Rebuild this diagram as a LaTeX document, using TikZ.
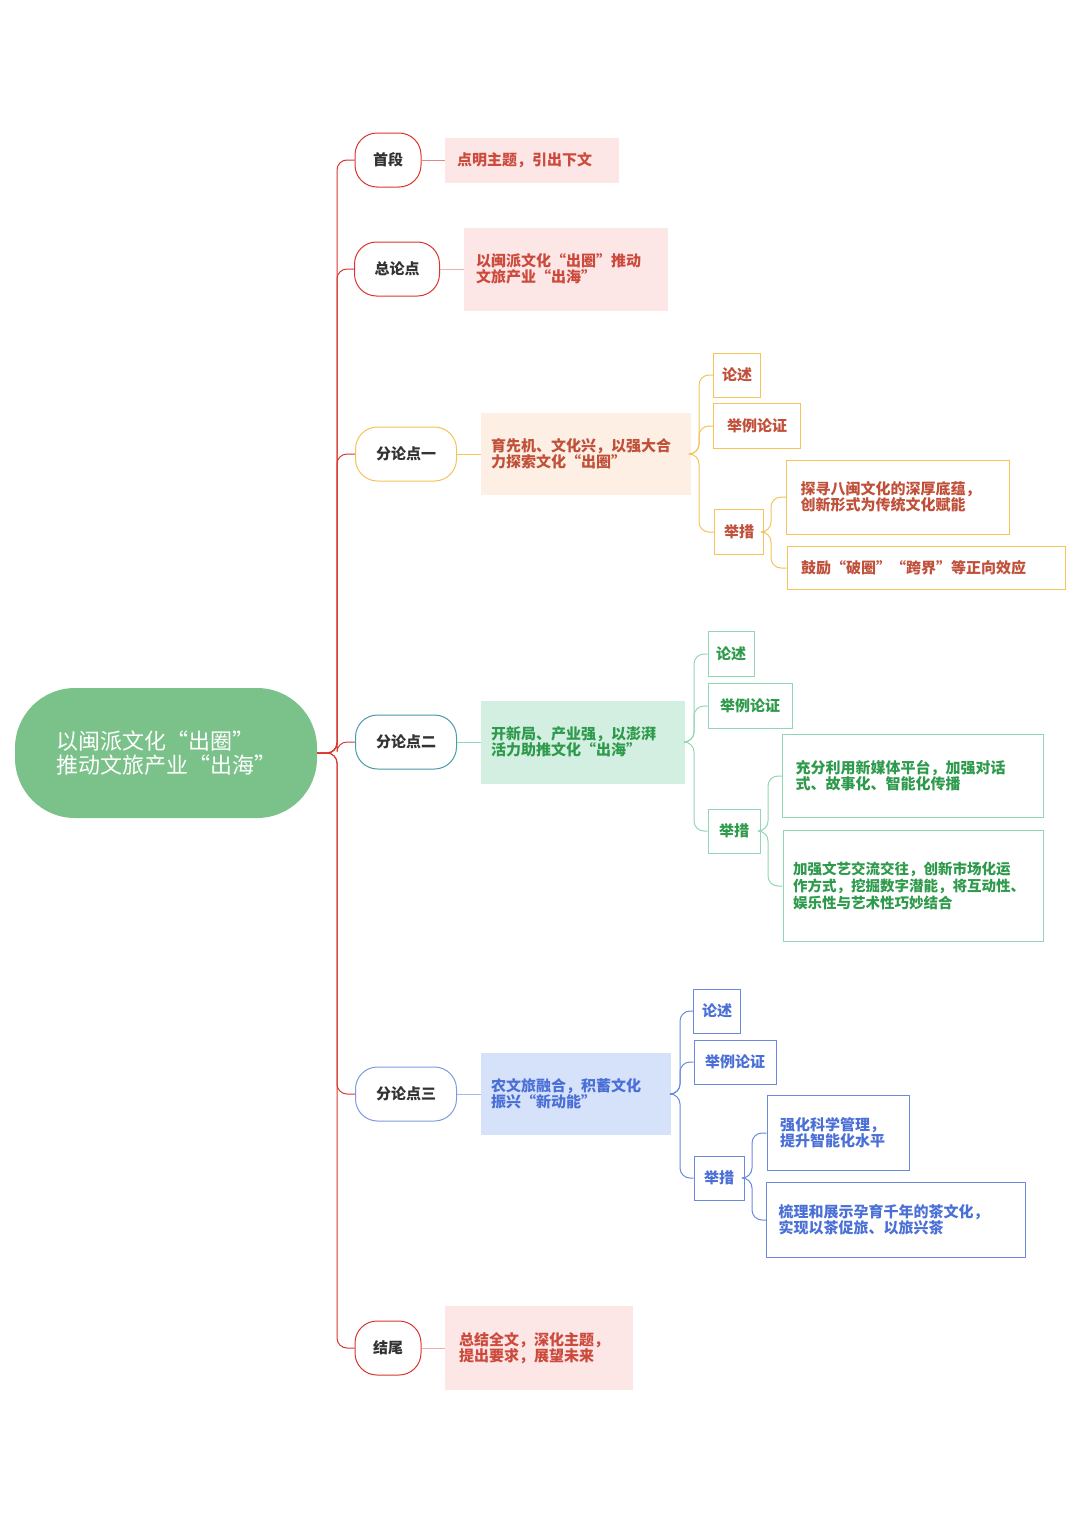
\documentclass[tikz,border=0pt]{standalone}
\usepackage{fontspec}
\newfontfamily\cjk{Noto Sans CJK SC}
\definecolor{rootg}{HTML}{7BC28A}
\definecolor{tred}{HTML}{D9362E}
\definecolor{txtred}{HTML}{CC4A3C}
\definecolor{pinkf}{HTML}{FDE6E6}
\definecolor{orl}{HTML}{F5C35A}
\definecolor{orf}{HTML}{FDEFE3}
\definecolor{ortxt}{HTML}{C0503A}
\definecolor{tealb}{HTML}{4A9BA8}
\definecolor{grl}{HTML}{93D6B4}
\definecolor{grf}{HTML}{D3EFE2}
\definecolor{grtxt}{HTML}{2E9A4B}
\definecolor{blb}{HTML}{7E9BE0}
\definecolor{bll}{HTML}{6A8AE0}
\definecolor{blf}{HTML}{D6E2FA}
\definecolor{bltxt}{HTML}{4A6FD6}
\begin{document}
\begin{tikzpicture}[x=1pt,y=-1pt,
  pill/.style={draw, rounded corners=22pt, fill=white, line width=1pt, minimum height=54pt, inner sep=0pt, font=\cjk\bfseries\fontsize{15}{17}\selectfont, text=black!80},
  tbox/.style={inner sep=0pt, align=left, font=\cjk\bfseries\fontsize{15}{16}\selectfont},
  sbox/.style={draw, fill=white, line width=1pt, inner sep=0pt, align=left, font=\cjk\bfseries\fontsize{15}{16}\selectfont},
  conn/.style={line width=1pt, rounded corners=10pt}]
\useasboundingbox (0,0) rectangle (1080,1528);
\fill[white] (0,0) rectangle (1080,1528);
% root
\node[fill=rootg, rounded corners=60pt, minimum width=302pt, minimum height=130pt, inner sep=0pt, text=white, align=left, font=\cjk\fontsize{22}{24}\selectfont] (root) at (166,753) {以闽派文化“出圈”\\推动文旅产业“出海”};
% level 1
\node[pill, draw=tred, minimum width=66pt] (p0) at (388,160) {首段};
\node[pill, draw=tred, minimum width=85pt] (p1) at (397,269) {总论点};
\node[pill, draw=orl, minimum width=101pt] (p2) at (406,454) {分论点一};
\node[pill, draw=tealb, minimum width=101pt] (p3) at (406,742) {分论点二};
\node[pill, draw=blb, minimum width=101pt] (p4) at (406,1094) {分论点三};
\node[pill, draw=tred, minimum width=66pt] (p5) at (388,1348) {结尾};
\coordinate (tr) at (337,753);
\foreach \p in {p0,p1,p2,p3,p4,p5} \draw[conn, tred] (root.east) -- (tr) |- (\p.west);
% content boxes
\node[tbox, fill=pinkf, text=txtred, minimum width=174pt, minimum height=45pt, text width=150pt] (c0) at (532,160) {点明主题，引出下文};
\node[tbox, fill=pinkf, text=txtred, minimum width=204pt, minimum height=83pt, text width=180pt] (c1) at (566,269) {以闽派文化“出圈”推动\\文旅产业“出海”};
\node[tbox, fill=orf, text=ortxt, minimum width=210pt, minimum height=82pt, text width=190pt] (c2) at (586,454) {育先机、文化兴，以强大合\\力探索文化“出圈”};
\node[tbox, fill=grf, text=grtxt, minimum width=204pt, minimum height=83pt, text width=184pt] (c3) at (583,742) {开新局、产业强，以澎湃\\活力助推文化“出海”};
\node[tbox, fill=blf, text=bltxt, minimum width=190pt, minimum height=82pt, text width=170pt] (c4) at (576,1094) {农文旅融合，积蓄文化\\振兴“新动能”};
\node[tbox, fill=pinkf, text=txtred, minimum width=188pt, minimum height=84pt, text width=160pt] (c5) at (539,1348) {总结全文，深化主题，\\提出要求，展望未来};
\draw[conn, tred!60] (p0.east) -- (c0.west);
\draw[conn, tred!40] (p1.east) -- (c1.west);
\draw[conn, orl] (p2.east) -- (c2.west);
\draw[conn, grl] (p3.east) -- (c3.west);
\draw[conn, blb!70] (p4.east) -- (c4.west);
\draw[conn, tred!40] (p5.east) -- (c5.west);
% branch 1
\node[sbox, draw=orl, text=ortxt, minimum width=47pt, minimum height=44pt] (a1) at (737,375) {论述};
\node[sbox, draw=orl, text=ortxt, minimum width=87pt, minimum height=45pt] (a2) at (757,426) {举例论证};
\node[sbox, draw=orl, text=ortxt, minimum width=49pt, minimum height=45pt] (a3) at (739,532) {举措};
\node[sbox, draw=orl, text=ortxt, minimum width=223pt, minimum height=74pt, text width=195pt] (a4) at (898,497) {探寻八闽文化的深厚底蕴，\\创新形式为传统文化赋能};
\node[sbox, draw=orl, text=ortxt, minimum width=278pt, minimum height=43pt, text width=250pt] (a5) at (926,568) {鼓励“破圈”“跨界”等正向效应};
\coordinate (fa) at (699,454);
\coordinate (fb) at (771,532);
\foreach \c in {a1,a2,a3} \draw[conn, orl] (c2.east) -- (fa) |- (\c.west);
\foreach \c in {a4,a5} \draw[conn, orl] (a3.east) -- (fb) |- (\c.west);
% branch 2
\node[sbox, draw=grl, text=grtxt, minimum width=46pt, minimum height=45pt] (b1) at (731,654) {论述};
\node[sbox, draw=grl, text=grtxt, minimum width=84pt, minimum height=45pt] (b2) at (750,706) {举例论证};
\node[sbox, draw=grl, text=grtxt, minimum width=52pt, minimum height=44pt] (b3) at (734,831) {举措};
\node[sbox, draw=grl, text=grtxt, minimum width=261pt, minimum height=83pt, text width=235pt] (b4) at (913,776) {充分利用新媒体平台，加强对话\\式、故事化、智能化传播};
\node[sbox, draw=grl, text=grtxt, minimum width=260pt, minimum height=111pt, text width=240pt, font=\cjk\bfseries\fontsize{14.5}{17}\selectfont] (b5) at (913,886) {加强文艺交流交往，创新市场化运\\作方式，挖掘数字潜能，将互动性、\\娱乐性与艺术性巧妙结合};
\coordinate (ga) at (694,742);
\coordinate (gb) at (768,831);
\foreach \c in {b1,b2,b3} \draw[conn, grl] (c3.east) -- (ga) |- (\c.west);
\foreach \c in {b4,b5} \draw[conn, grl] (b3.east) -- (gb) |- (\c.west);
% branch 3
\node[sbox, draw=bll, text=bltxt, minimum width=47pt, minimum height=44pt] (d1) at (717,1011) {论述};
\node[sbox, draw=bll, text=bltxt, minimum width=82pt, minimum height=44pt] (d2) at (735,1062) {举例论证};
\node[sbox, draw=bll, text=bltxt, minimum width=50pt, minimum height=44pt] (d3) at (719,1178) {举措};
\node[sbox, draw=bll, text=bltxt, minimum width=142pt, minimum height=75pt, text width=116pt] (d4) at (838,1133) {强化科学管理，\\提升智能化水平};
\node[sbox, draw=bll, text=bltxt, minimum width=259pt, minimum height=75pt, text width=235pt] (d5) at (896,1220) {梳理和展示孕育千年的茶文化，\\实现以茶促旅、以旅兴茶};
\coordinate (ha) at (680,1094);
\coordinate (hb) at (752,1178);
\foreach \c in {d1,d2,d3} \draw[conn, bll] (c4.east) -- (ha) |- (\c.west);
\foreach \c in {d4,d5} \draw[conn, bll] (d3.east) -- (hb) |- (\c.west);
\end{tikzpicture}
\end{document}
